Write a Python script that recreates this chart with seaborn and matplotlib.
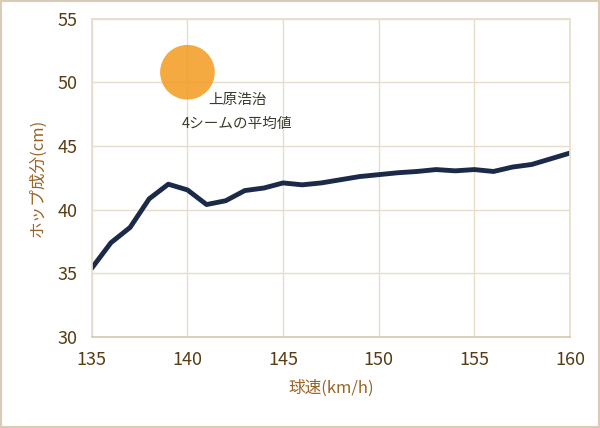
import matplotlib
matplotlib.use("Agg")
import matplotlib.pyplot as plt
import seaborn as sns
import pandas as pd

# 球速ごとのホップ成分
speed = list(range(135, 161))
hop = [35.4, 37.4, 38.6, 40.85, 42.0, 41.55, 40.4, 40.7, 41.5, 41.7,
       42.1, 41.95, 42.1, 42.35, 42.6, 42.75, 42.9, 43.0, 43.15, 43.05,
       43.15, 43.0, 43.35, 43.55, 44.0, 44.45]

# 上原浩治 4シームの平均値
uehara_speed = [140]
uehara_hop = [50.8]

df = pd.DataFrame({"speed": speed, "hop": hop})

sns.set_theme(style="white")
plt.rcParams['font.family'] = ['Noto Sans CJK JP', 'DejaVu Sans']

grid_c = '#e8dccb'
tick_c = '#5a3c14'
label_c = '#9a6426'

fig, ax = plt.subplots(figsize=(6.0, 4.28), dpi=100)
fig.subplots_adjust(left=0.153, right=0.95, top=0.956, bottom=0.213)

sns.lineplot(data=df, x="speed", y="hop", ax=ax, color='#1b2a48', linewidth=3.5)
ax.scatter(uehara_speed, uehara_hop, s=1550, color='#f39a20', alpha=0.85,
           edgecolors='none', zorder=3)
ax.text(142.6, 48.65, '上原浩治', fontsize=10.5, color='#3a3a2a', va='center', ha='center')
ax.text(142.6, 46.7, '4シームの平均値', fontsize=10.5, color='#3a3a2a', va='center', ha='center')

ax.set_xlim(135, 160)
ax.set_ylim(30, 55)
ax.set_xticks(range(135, 161, 5))
ax.set_yticks(range(30, 56, 5))
ax.grid(True, color=grid_c, linewidth=1)
for side in ['top', 'right', 'left']:
    ax.spines[side].set_color(grid_c)
ax.spines['bottom'].set_color('#d8c8b0')
ax.tick_params(axis='both', colors=tick_c, labelsize=13, length=0, pad=10)
ax.set_xlabel('球速(km/h)', color=label_c, fontsize=12, labelpad=8)
ax.set_ylabel('ホップ成分(cm)', color=label_c, fontsize=12, labelpad=8)

fig.patches.append(plt.Rectangle((0.002, 0.002), 0.996, 0.996, transform=fig.transFigure,
                                 fill=False, edgecolor='#d9cbb5', linewidth=1.5))

fig.savefig('out.png', dpi=100)
